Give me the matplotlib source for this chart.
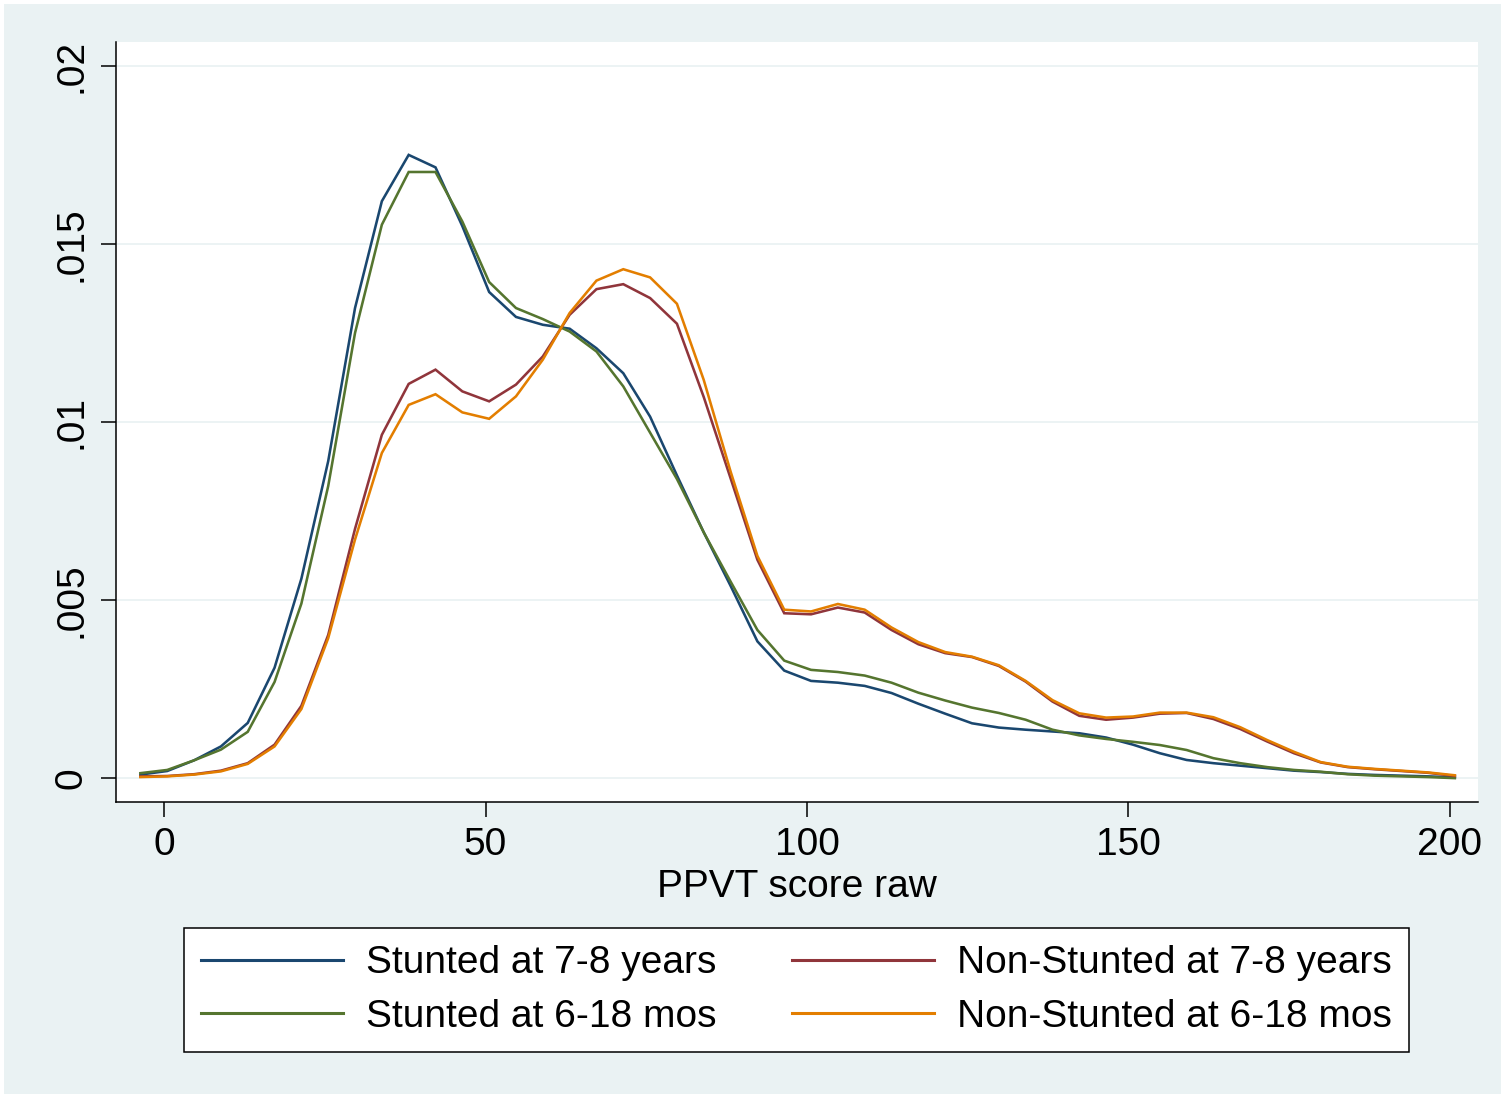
import matplotlib
matplotlib.use("Agg")
import matplotlib.pyplot as plt
import numpy as np
from matplotlib.patches import Rectangle

plt.rcParams["font.family"] = ["Liberation Sans", "DejaVu Sans"]

# kdensity evaluation points (50 points over the score range)
score_grid = np.linspace(-3.7, 200.8, 50)

stunted_78 = [
    0.0001, 0.0002, 0.0005, 0.00089, 0.00155, 0.0031, 0.0056, 0.0089, 0.0132, 0.0162,
    0.0175, 0.01715, 0.0155, 0.01365, 0.01295, 0.01273, 0.01262, 0.01207, 0.01137, 0.01015,
    0.0085, 0.0069, 0.0054, 0.00384, 0.00302, 0.00273, 0.00268, 0.00259, 0.00239, 0.00209,
    0.00181, 0.00154, 0.00142, 0.00136, 0.00131, 0.00126, 0.00114, 0.00094, 0.0007, 0.00051,
    0.00042, 0.00035, 0.00028, 0.00021, 0.00017, 0.00012, 0.00009, 0.00007, 0.00005, 0.00002,
]
stunted_618 = [
    0.00014, 0.00023, 0.0005, 0.0008, 0.0013, 0.0027, 0.0049, 0.0082, 0.0125, 0.01554,
    0.01702, 0.01702, 0.01563, 0.01393, 0.0132, 0.01289, 0.01254, 0.01198, 0.011, 0.0097,
    0.0084, 0.0069, 0.00552, 0.00416, 0.0033, 0.00304, 0.00298, 0.00288, 0.00268, 0.0024,
    0.00218, 0.00198, 0.00183, 0.00164, 0.00136, 0.0012, 0.0011, 0.00102, 0.00093, 0.00079,
    0.00056, 0.00042, 0.00031, 0.00023, 0.00018, 0.00011, 0.00007, 0.00005, 0.00003, 0.0,
]
nonstunted_78 = [
    0.00005, 0.00006, 0.00011, 0.00021, 0.00042, 0.00094, 0.00203, 0.00402, 0.007, 0.00964,
    0.01107, 0.01147, 0.01086, 0.01058, 0.01105, 0.01184, 0.01301, 0.01373, 0.01387, 0.01348,
    0.01276, 0.0107, 0.00842, 0.00613, 0.00463, 0.0046, 0.00479, 0.00465, 0.00416, 0.00376,
    0.00351, 0.0034, 0.00315, 0.00271, 0.00215, 0.00175, 0.00164, 0.0017, 0.00181, 0.00183,
    0.00166, 0.00138, 0.00103, 0.0007, 0.00044, 0.00031, 0.00025, 0.0002, 0.00015, 0.00006,
]
nonstunted_618 = [
    0.00003, 0.00005, 0.0001, 0.00019, 0.0004, 0.00089, 0.00194, 0.00393, 0.0067, 0.00913,
    0.01048, 0.01078, 0.01027, 0.01009, 0.01072, 0.01175, 0.01306, 0.01397, 0.01429, 0.01406,
    0.01332, 0.01118, 0.00861, 0.00624, 0.00473, 0.00468, 0.00489, 0.00473, 0.00423, 0.00382,
    0.00354, 0.00341, 0.00317, 0.00273, 0.00219, 0.00182, 0.0017, 0.00173, 0.00184, 0.00184,
    0.00171, 0.00143, 0.00107, 0.00074, 0.00045, 0.00032, 0.00026, 0.00021, 0.00016, 0.00008,
]

series = [
    ("Stunted at 7-8 years", stunted_78, "#1A476F"),
    ("Stunted at 6-18 mos", stunted_618, "#55752F"),
    ("Non-Stunted at 7-8 years", nonstunted_78, "#90353B"),
    ("Non-Stunted at 6-18 mos", nonstunted_618, "#E37E00"),
]
x_ticks = [0, 50, 100, 150, 200]
y_ticks = [0, 0.005, 0.01, 0.015, 0.02]
y_tick_labels = ["0", ".005", ".01", ".015", ".02"]

W, H = 1505, 1098
fig = plt.figure(figsize=(W / 100, H / 100), dpi=100, facecolor="white")
fig.patches.append(Rectangle((4 / W, 4 / H), (W - 8) / W, (H - 8) / H,
                             transform=fig.transFigure, facecolor="#EAF2F3",
                             edgecolor="none", zorder=-10))
ax = fig.add_axes([116 / W, (H - 802) / H, (1478 - 116) / W, (802 - 42) / H])
ax.set_facecolor("white")

lines = []
for label, values, color in series:
    (ln,) = ax.plot(score_grid, values, color=color, lw=1.85, label=label,
                    solid_joinstyle="miter")
    lines.append(ln)

ax.set_xlim(-7.5, 204.4)
ax.set_ylim(-0.00067, 0.02067)
ax.set_xticks(x_ticks)
ax.set_xticklabels([str(t) for t in x_ticks])
ax.set_yticks(y_ticks)
ax.set_yticklabels(y_tick_labels, rotation=90, va="center")
ax.tick_params(axis="both", length=11, width=1.1, labelsize=28, color="black")
ax.tick_params(axis="x", pad=7)
ax.tick_params(axis="y", pad=8)
ax.grid(axis="y", color="#EAF2F3", lw=1.3)
ax.set_axisbelow(True)
for side in ["top", "right"]:
    ax.spines[side].set_visible(False)
for side in ["left", "bottom"]:
    ax.spines[side].set_linewidth(1.1)
ax.set_xlabel("PPVT score raw", fontsize=28, labelpad=4)

leg = fig.legend(lines, [s[0] for s in series], loc="center",
                 bbox_to_anchor=(796.5 / W, 1 - 990 / H), ncol=2,
                 fontsize=28, frameon=True, fancybox=False, shadow=False,
                 framealpha=1.0, handlelength=3.65, handletextpad=0.59,
                 columnspacing=1.95, labelspacing=0.45, borderpad=0.45)
leg.get_frame().set_edgecolor("black")
leg.get_frame().set_linewidth(1.1)
leg.get_frame().set_facecolor("white")
for h in leg.get_lines():
    h.set_linewidth(2.2)

fig.savefig("out.png", dpi=100, facecolor="white")
